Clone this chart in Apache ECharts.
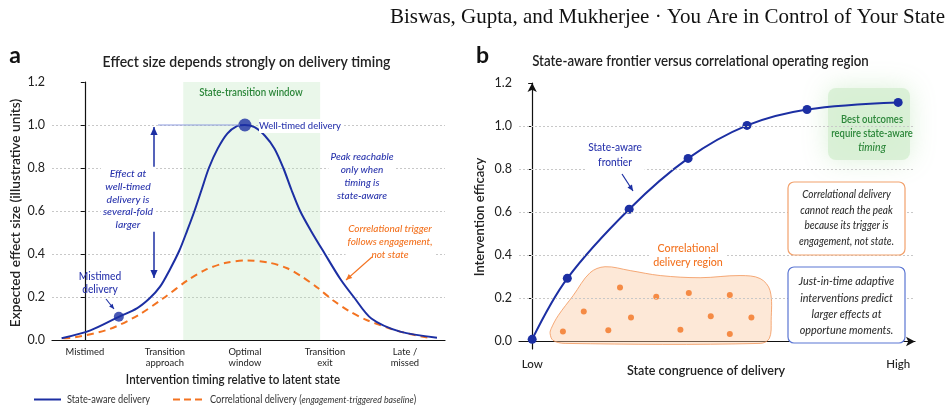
<!DOCTYPE html>
<html><head><meta charset="utf-8">
<script src="https://cdn.jsdelivr.net/npm/echarts@6/dist/echarts.min.js"></script>
<style>html,body{margin:0;padding:0;background:#fff}#c{width:952px;height:413px}</style>
</head><body><div id="c"></div>
<script>
// ---------- data ----------
const timingCategories = ['Mistimed', 'Transition\napproach', 'Optimal\nwindow', 'Transition\nexit', 'Late /\nmissed'];
const timingTickValues = [0, 1, 2, 3, 4];
const stateAwareCurve = [[-0.29,0.008],[0.07,0.045],[0.425,0.108],[0.65,0.147],[0.81,0.194],[0.94,0.248],[1.06,0.326],[1.18,0.415],[1.28,0.51],[1.37,0.60],[1.46,0.70],[1.55,0.80],[1.66,0.89],[1.78,0.96],[1.9,0.995],[2.0,1.0],[2.12,0.99],[2.25,0.95],[2.37,0.89],[2.48,0.80],[2.58,0.70],[2.69,0.60],[2.83,0.505],[3.0,0.40],[3.19,0.285],[3.36,0.20],[3.58,0.10],[3.94,0.039],[4.4,0.011]];
const correlationalCurve = [[-0.27,0.008],[-0.125,0.012],[0.31,0.051],[0.67,0.116],[0.98,0.194],[1.29,0.279],[1.5,0.325],[1.75,0.358],[2.03,0.37],[2.3,0.36],[2.52,0.335],[2.71,0.295],[2.9,0.245],[3.1,0.185],[3.3,0.135],[3.52,0.093],[3.94,0.039],[4.33,0.008]];
const keyPoints = [[2.0, 1.0], [0.425, 0.108]];
const transitionWindow = [1.23, 2.94];

const frontierPoints = [[0,0.01],[0.96,0.293],[2.65,0.614],[4.26,0.85],[5.87,1.003],[7.51,1.077],[10,1.11]];
const correlationalScatter = [[2.40,0.251],[3.39,0.208],[4.28,0.225],[5.40,0.216],[1.41,0.139],[2.70,0.111],[4.88,0.117],[5.99,0.111],[0.84,0.046],[2.08,0.052],[4.05,0.054],[5.40,0.035]];
const regionOutline = [[0.52,0.06],[0.71,0.12],[1.12,0.213],[1.58,0.319],[1.99,0.347],[2.68,0.329],[3.50,0.306],[4.59,0.296],[5.68,0.306],[6.23,0.292],[6.50,0.236],[6.53,0.097],[6.48,0.014],[6.23,-0.009],[0.90,-0.009],[0.57,0.005],[0.49,0.037]];
const efficacyTicks = [0, 0.2, 0.4, 0.6, 0.8, 1.0, 1.2];
const efficacyGridValues = [0.2, 0.4, 0.6, 0.8, 1.0];
const congruenceTickValues = [0, 10];
const congruenceLabels = ['Low', 'High'];

// ---------- style ----------
const FONT = 'Lato';
const BLUE = '#1c2fa3';
const BLUE_TXT = '#2a35ad';
const ORANGE = '#f37321';
const GREEN = '#2b8639';
const INK = '#222';

function T(x, y, text, o) {
  o = o || {};
  return {
    type: 'text', x: x, y: y, rotation: o.rot || 0, scaleX: o.sx || 1, z: o.z || 100,
    style: Object.assign({
      text: text, fill: o.fill || INK,
      fontFamily: o.family || FONT, fontSize: o.size || 11,
      fontWeight: o.weight || 'normal', fontStyle: o.style || 'normal',
      align: o.align || 'center', verticalAlign: 'middle',
      textAlign: o.align || 'center', textVerticalAlign: 'middle',
      lineHeight: o.lh || Math.round((o.size || 11) * 1.2)
    }, o.extra || {})
  };
}
function arrowHead(x1, y1, x2, y2, color, hs) {
  const a = Math.atan2(y2 - y1, x2 - x1), c = Math.cos(a), s = Math.sin(a);
  return { type: 'polygon', z: 100, shape: { points: [[x2, y2], [x2 - hs * c + hs * 0.45 * s, y2 - hs * s - hs * 0.45 * c], [x2 - hs * c - hs * 0.45 * s, y2 - hs * s + hs * 0.45 * c]] }, style: { fill: color } };
}
function arrow(x1, y1, x2, y2, color, w, hs, both) {
  const els = [{ type: 'line', z: 100, shape: { x1: x1, y1: y1, x2: x2, y2: y2 }, style: { stroke: color, lineWidth: w } }, arrowHead(x1, y1, x2, y2, color, hs)];
  if (both) els.push(arrowHead(x2, y2, x1, y1, color, hs));
  return els;
}
const WHITE_BG = { backgroundColor: '#fff', padding: [1, 2] };

const chart = echarts.init(document.getElementById('c'), null, { renderer: 'canvas' });

const graphics = [
  T(945, 17, 'Biswas, Gupta, and Mukherjee · You Are in Control of Your State', { family: '"Liberation Serif", "Times New Roman", serif', size: 21, align: 'right', fill: '#111' }),
  // panel a
  T(15, 56, 'a', { size: 23, weight: 'bold', fill: '#111' }),
  T(246.5, 61.5, 'Effect size depends strongly on delivery timing', { size: 15.5, weight: 600, sx: 0.905 }),
  T(251, 93, 'State-transition window', { size: 10.8, fill: GREEN, weight: 600, sx: 0.9 }),
  { type: 'line', z: 90, shape: { x1: 158, y1: 125, x2: 240, y2: 125 }, style: { stroke: '#8d9be0', lineWidth: 1 } },
  T(259, 126, 'Well-timed delivery', { size: 10.2, fill: BLUE_TXT, align: 'left', sx: 0.93, weight: 500, extra: { backgroundColor: '#fff', padding: [1, 3, 1, 0] } }),
  ...arrow(154, 278, 154, 127, BLUE, 1.5, 8, true),
  T(128, 199.2, 'Effect at\nwell-timed\ndelivery is\nseveral-fold\nlarger', { size: 10.4, style: 'italic', fill: BLUE_TXT, lh: 12.6, weight: 500, extra: WHITE_BG }),
  T(362, 176.4, 'Peak reachable\nonly when\ntiming is\nstate-aware', { size: 10, style: 'italic', fill: BLUE_TXT, lh: 13.1, weight: 500, extra: WHITE_BG }),
  T(390, 241.3, 'Correlational trigger\nfollows engagement,\nnot state', { size: 10, style: 'italic', fill: ORANGE, lh: 13, weight: 500, extra: WHITE_BG }),
  ...arrow(372, 257, 346, 280, ORANGE, 1.1, 6),
  T(100, 282.7, 'Mistimed\ndelivery', { size: 11, fill: BLUE_TXT, lh: 13.3, sx: 0.93, weight: 500 }),
  ...arrow(106, 299, 114, 309, BLUE, 1.1, 5),
  T(233, 379.5, 'Intervention timing relative to latent state', { size: 13.5, weight: 600, sx: 0.86 }),
  T(15, 213, 'Expected effect size (illustrative units)', { size: 14, weight: 600, rot: Math.PI / 2, sx: 0.98 }),
  { type: 'line', z: 100, shape: { x1: 34, y1: 399.5, x2: 61, y2: 399.5 }, style: { stroke: BLUE, lineWidth: 2 } },
  T(67, 400, 'State-aware delivery', { size: 10.5, align: 'left', fill: '#333', sx: 0.88 }),
  { type: 'line', z: 100, shape: { x1: 173, y1: 399.5, x2: 204, y2: 399.5 }, style: { stroke: ORANGE, lineWidth: 2, lineDash: [7, 4] } },
  { type: 'text', x: 210, y: 400, scaleX: 0.88, z: 100, style: { text: '{n|Correlational delivery (}{i|engagement-triggered baseline}{n|)}', align: 'left', verticalAlign: 'middle', textAlign: 'left', textVerticalAlign: 'middle',
    rich: { n: { fontFamily: FONT, fontSize: 10.5, fill: '#333', color: '#333' }, i: { fontFamily: FONT, fontSize: 10, fontStyle: 'italic', fill: '#333', color: '#333' } } } },
  // panel b
  T(482.5, 56, 'b', { size: 23, weight: 'bold', fill: '#111' }),
  T(700.5, 61, 'State-aware frontier versus correlational operating region', { size: 15, weight: 600, sx: 0.886 }),
  { type: 'rect', z: 1.8, shape: { x: 828, y: 88, width: 82, height: 72, r: 8 }, style: { fill: 'rgba(214,238,210,0.85)', shadowBlur: 26, shadowColor: 'rgba(214,238,210,1)' } },
  T(872, 126.8, 'Best outcomes\nrequire state-aware', { size: 10.5, weight: 600, fill: GREEN, lh: 13.8, sx: 0.9 }),
  T(872, 147.7, 'timing', { size: 10.5, style: 'italic', fill: GREEN, weight: 500 }),
  T(615, 155.5, 'State-aware\nfrontier', { size: 10.8, fill: BLUE_TXT, lh: 15, sx: 0.94, weight: 500, extra: { backgroundColor: '#fff', padding: [1, 3] } }),
  ...arrow(622, 174, 633, 191, BLUE, 1.2, 6),
  { type: 'rect', z: 99, shape: { x: 788, y: 182, width: 117, height: 73, r: 6 }, style: { fill: '#fff', stroke: '#f2a16c', lineWidth: 1.2 } },
  T(846.5, 218.3, 'Correlational delivery\ncannot reach the peak\nbecause its trigger is\nengagement, not state.', { size: 10.5, style: 'italic', fill: '#333', lh: 15.5, sx: 0.95, weight: 500 }),
  { type: 'rect', z: 99, shape: { x: 788, y: 267, width: 117, height: 76, r: 6 }, style: { fill: '#fff', stroke: '#5b76d3', lineWidth: 1.2 } },
  T(846.5, 306.2, 'Just-in-time adaptive\ninterventions predict\nlarger effects at\nopportune moments.', { size: 10.8, style: 'italic', fill: '#333', lh: 16.3, weight: 500 }),
  T(688, 255.5, 'Correlational\ndelivery region', { size: 11.5, fill: ORANGE, lh: 14.5, sx: 0.93, weight: 500, extra: { backgroundColor: '#fff', padding: [1, 3] } }),
  T(706, 371, 'State congruence of delivery', { size: 13.5, weight: 600, sx: 0.93 }),
  T(480, 217, 'Intervention efficacy', { size: 13, weight: 600, rot: Math.PI / 2 })
];

const option = {
  animation: false,
  backgroundColor: '#fff',
  textStyle: { fontFamily: FONT },
  grid: [
    { left: 52, top: 82, width: 393, height: 258 },
    { left: 519, top: 83, width: 396, height: 266 }
  ],
  xAxis: [
    { type: 'value', gridIndex: 0, min: -0.41, max: 4.5,
      axisLine: { lineStyle: { color: '#111', width: 1.2 } }, axisTick: { show: false }, splitLine: { show: false },
      axisLabel: { customValues: timingTickValues, formatter: v => timingCategories[Math.round(v)], fontSize: 9.4, lineHeight: 11.5, color: INK, margin: 6, fontFamily: FONT } },
    { type: 'value', gridIndex: 1, min: -0.36, max: 10.46,
      axisLine: { symbol: ['none', 'arrow'], symbolSize: [7, 9], lineStyle: { color: '#111', width: 1.2 } }, axisTick: { show: false }, splitLine: { show: false },
      axisLabel: { customValues: congruenceTickValues, formatter: v => congruenceLabels[v === 0 ? 0 : 1], fontSize: 11.5, fontWeight: 500, color: INK, margin: 9, fontFamily: FONT } }
  ],
  yAxis: [
    { type: 'value', gridIndex: 0, min: 0, max: 1.2, interval: 0.2,
      axisLine: { show: true, lineStyle: { color: '#111', width: 1.2 } }, axisTick: { show: true, length: 4, lineStyle: { color: '#111' } },
      splitLine: { show: true, showMinLine: false, showMaxLine: false, lineStyle: { color: '#c8c8c8', type: [2, 2], width: 1 } },
      axisLabel: { formatter: v => v.toFixed(1), fontSize: 12.5, color: INK, margin: 7, fontFamily: FONT } },
    { type: 'value', gridIndex: 1, min: -0.035, max: 1.2,
      axisLine: { show: true, symbol: ['none', 'arrow'], symbolSize: [7, 9], lineStyle: { color: '#111', width: 1.2 } },
      axisTick: { show: true, length: 4, customValues: efficacyTicks, lineStyle: { color: '#111' } },
      splitLine: { show: false },
      axisLabel: { customValues: efficacyTicks, formatter: v => v.toFixed(1), fontSize: 12.5, color: INK, margin: 7, fontFamily: FONT } }
  ],
  series: [
    { type: 'line', xAxisIndex: 0, yAxisIndex: 0, data: stateAwareCurve, smooth: 0.3, showSymbol: false, z: 4,
      lineStyle: { color: BLUE, width: 2 },
      markArea: { silent: true, itemStyle: { color: 'rgba(180,225,180,0.28)' },
        data: [[{ xAxis: transitionWindow[0], yAxis: 0 }, { xAxis: transitionWindow[1], yAxis: 1.2 }]] } },
    { type: 'line', xAxisIndex: 0, yAxisIndex: 0, data: correlationalCurve, smooth: 0.3, showSymbol: false, z: 3,
      lineStyle: { color: ORANGE, width: 2, type: [7, 5] } },
    { type: 'scatter', xAxisIndex: 0, yAxisIndex: 0, data: keyPoints, z: 5,
      symbolSize: (v, p) => p.dataIndex === 0 ? 13 : 10, itemStyle: { color: BLUE } },
    { type: 'line', xAxisIndex: 1, yAxisIndex: 1, data: [], z: 1, silent: true,
      markLine: { silent: true, symbol: 'none', label: { show: false },
        lineStyle: { color: '#c8c8c8', type: [2, 2], width: 1 },
        data: efficacyGridValues.map(v => ({ yAxis: v })) } },
    { type: 'custom', xAxisIndex: 1, yAxisIndex: 1, data: [0], z: 2, clip: false, silent: true,
      renderItem: function (params, api) {
        const pts = regionOutline.map(p => api.coord(p));
        return { type: 'polygon', shape: { points: pts, smooth: 0.35 },
          style: { fill: 'rgba(251,200,160,0.42)', stroke: 'rgba(243,150,90,0.8)', lineWidth: 1 } };
      } },
    { type: 'scatter', xAxisIndex: 1, yAxisIndex: 1, data: correlationalScatter, z: 3, symbolSize: 6,
      itemStyle: { color: ORANGE } },
    { type: 'line', xAxisIndex: 1, yAxisIndex: 1, data: frontierPoints, smooth: 0.35, z: 4,
      symbol: 'circle', symbolSize: 9, showSymbol: true,
      lineStyle: { color: BLUE, width: 2 }, itemStyle: { color: BLUE } }
  ],
  graphic: { elements: graphics }
};
chart.setOption(option);
</script>
</body></html>
